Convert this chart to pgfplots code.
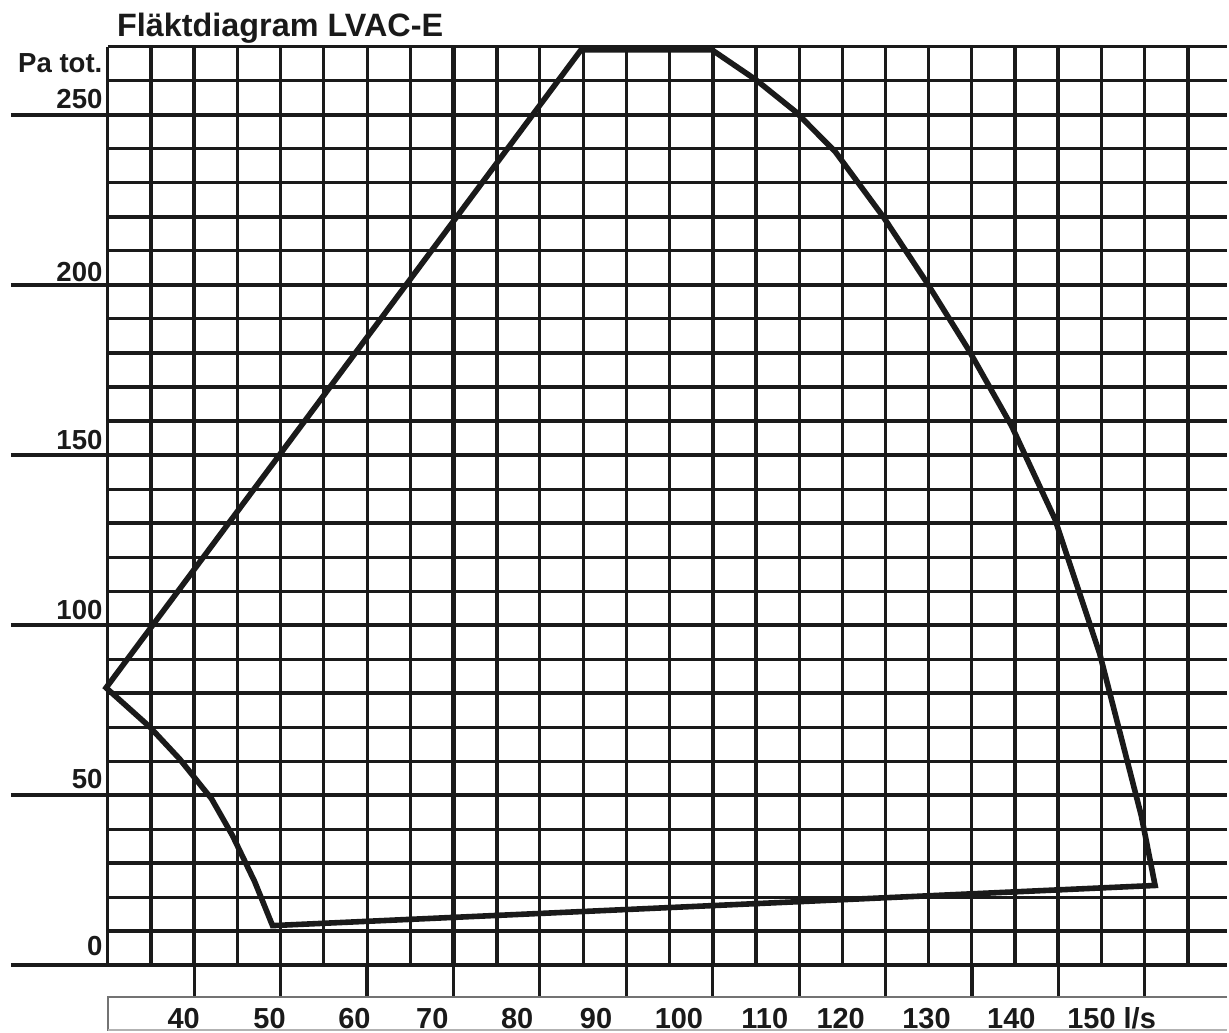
\documentclass[border=0pt]{standalone}
\usepackage{pgfplots}
\pgfplotsset{compat=1.18}
\usepackage{fontspec}
\setmainfont{Liberation Sans}
\definecolor{ink}{HTML}{1A1A1A}
\begin{document}
\begin{tikzpicture}
\begin{axis}[scale only axis, width=614.5pt, height=516.5pt,
  xmin=17.522, xmax=159.52, ymin=-19.366, ymax=283.74,
  hide axis, clip=false]
\path (rel axis cs:0,0) rectangle (rel axis cs:1,1);
% horizontal grid
\pgfplotsinvokeforeach{0,10,...,270}{\draw[ink, line width=1.55pt] (axis cs:30,#1) -- (axis cs:159.52,#1);}
\pgfplotsinvokeforeach{0,10,30,50,80,100,130,150,200,220,250}{\draw[ink, line width=2pt] (axis cs:30,#1) -- (axis cs:159.52,#1);}
\pgfplotsinvokeforeach{0,50,...,250}{\draw[ink, line width=2pt] (axis cs:18.79,#1) -- (axis cs:30,#1);}
% vertical grid
\pgfplotsinvokeforeach{30,35,...,155}{\draw[ink, line width=1.55pt] (axis cs:#1,0) -- (axis cs:#1,270);}
\pgfplotsinvokeforeach{40,70,75,100,105,135,140}{\draw[ink, line width=2.1pt] (axis cs:#1,0) -- (axis cs:#1,270);}
\pgfplotsinvokeforeach{40,50,...,150}{\draw[ink, line width=1.6pt] (axis cs:#1,0) -- (axis cs:#1,-9.39);}
% scale box
\draw[black!55, line width=1pt] (axis cs:159.52,-9.39) -- (axis cs:30,-9.39) -- (axis cs:30,-19.366);
\draw[black!30, line width=1pt] (axis cs:30,-19.07) -- (axis cs:159.52,-19.07);
% curve
\addplot[ink, line width=2.8pt, line join=miter, miter limit=4] coordinates {
(29.8,81.6) (84.77,269.1) (99.9,269.1) (104.99,260.3) (109.6,250.9) (114.2,239.1)
(119.8,219.8) (124.7,201.0) (129.6,181.0) (134.6,158.5) (139.6,131.2) (144.8,91.5)
(149.6,44.0) (151.2,23.5) (49.06,11.7) (47.0,24.6) (44.44,38.1) (42.0,49.0)
(40.6,53.4) (38.3,60.7) (34.85,70.1)} -- cycle;
% labels
\tikzset{lab/.style={inner sep=0pt, font=\bfseries\fontsize{13.8}{16}\selectfont, text=ink},
         xl/.style={inner sep=0pt, font=\bfseries\fontsize{14.5}{17}\selectfont, text=ink, anchor=base}}
\node[lab, anchor=base west, font=\bfseries\fontsize{16.2}{19}\selectfont] at (axis cs:31.04,272.9) {Fläktdiagram LVAC-E};
\node[lab, anchor=base east] at (axis cs:29.42,262.3) {Pa tot.};
\node[lab, anchor=base east] at (axis cs:29.42,251.8) {250};
\node[lab, anchor=base east] at (axis cs:29.42,201.0) {200};
\node[lab, anchor=base east] at (axis cs:29.42,151.5) {150};
\node[lab, anchor=base east] at (axis cs:29.42,101.8) {100};
\node[lab, anchor=base east] at (axis cs:29.42,51.9) {50};
\node[lab, anchor=base east] at (axis cs:29.42,2.9) {0};
\node[xl] at (axis cs:38.78,-18.4) {40};
\node[xl] at (axis cs:48.72,-18.4) {50};
\node[xl] at (axis cs:58.54,-18.4) {60};
\node[xl] at (axis cs:67.55,-18.4) {70};
\node[xl] at (axis cs:77.37,-18.4) {80};
\node[xl] at (axis cs:86.50,-18.4) {90};
\node[xl] at (axis cs:96.09,-18.4) {100};
\node[xl] at (axis cs:106.03,-18.4) {110};
\node[xl] at (axis cs:114.81,-18.4) {120};
\node[xl] at (axis cs:124.74,-18.4) {130};
\node[xl] at (axis cs:134.56,-18.4) {140};
\node[xl, anchor=base west] at (axis cs:141.0,-18.4) {150 l/s};
\end{axis}
\end{tikzpicture}
\end{document}
